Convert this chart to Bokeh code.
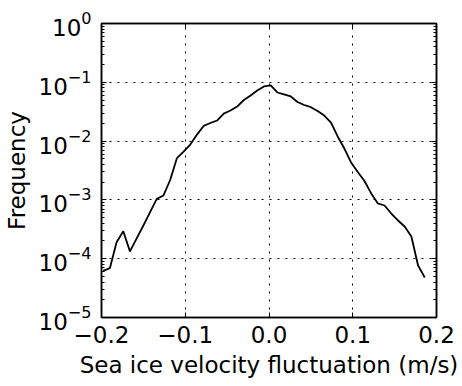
from bokeh.plotting import figure
from bokeh.models import Range1d, LinearAxis, LogAxis, FixedTicker, LogTicker, CustomJSTickFormatter
from bokeh.embed import file_html
from bokeh.resources import INLINE

# bin centres (m/s)
velocity = [-0.198, -0.190, -0.182, -0.174, -0.166, -0.158, -0.150, -0.142, -0.134, -0.126,
            -0.118, -0.110, -0.102, -0.094, -0.086, -0.078, -0.070, -0.062, -0.054, -0.046,
            -0.038, -0.030, -0.022, -0.014, -0.006, 0.002, 0.010, 0.018, 0.026, 0.034,
            0.042, 0.050, 0.058, 0.066, 0.074, 0.082, 0.090, 0.098, 0.106, 0.114,
            0.122, 0.130, 0.138, 0.146, 0.154, 0.162, 0.170, 0.178, 0.186]
frequency = [6.2e-5, 6.9e-5, 1.91e-4, 2.94e-4, 1.33e-4, 2.22e-4, 3.67e-4, 6.18e-4, 1.04e-3, 1.19e-3,
             2.18e-3, 5.12e-3, 6.65e-3, 8.75e-3, 1.29e-2, 1.81e-2, 2.03e-2, 2.24e-2, 2.94e-2, 3.31e-2,
             3.87e-2, 5.00e-2, 5.97e-2, 7.26e-2, 8.49e-2, 8.83e-2, 6.71e-2, 6.21e-2, 5.74e-2, 4.62e-2,
             4.11e-2, 3.77e-2, 3.25e-2, 2.72e-2, 2.07e-2, 1.20e-2, 7.48e-3, 4.33e-3, 2.98e-3, 2.10e-3,
             1.29e-3, 8.69e-4, 8.03e-4, 5.87e-4, 4.47e-4, 3.53e-4, 2.39e-4, 7.66e-5, 4.79e-5]
x_ticks = [-0.2, -0.1, 0.0, 0.1, 0.2]

FONT = "DejaVu Sans"
FS = "23px"

p = figure(width=462, height=386, output_backend="svg", toolbar_location=None,
           y_axis_type="log", x_range=Range1d(-0.2, 0.2), y_range=Range1d(1e-5, 1e0),
           min_border_left=101, min_border_right=26, min_border_top=23, min_border_bottom=69)
p.background_fill_color = "white"
p.border_fill_color = "white"
p.outline_line_color = "black"
p.outline_line_width = 1.5

p.line(velocity, frequency, line_color="black", line_width=1.8)

minus_fmt = CustomJSTickFormatter(code="return tick.toFixed(1).replace('-', '\u2212');")
blank_fmt = CustomJSTickFormatter(code="return '';")

def style(ax, labels=True):
    ax.axis_line_color = "black"
    ax.axis_line_width = 1.5
    ax.major_tick_in = 5
    ax.major_tick_out = 0
    ax.minor_tick_in = 3
    ax.minor_tick_out = 0
    ax.major_tick_line_color = "black"
    ax.minor_tick_line_color = "black"
    ax.major_label_text_font = FONT
    ax.major_label_text_font_size = FS
    ax.major_label_text_color = "black"
    if not labels:
        ax.formatter = blank_fmt
        ax.major_label_standoff = 0

xa = p.xaxis[0]
xa.ticker = FixedTicker(ticks=x_ticks)
xa.formatter = minus_fmt
style(xa)
xa.minor_tick_line_color = None
xa.major_label_standoff = 8
xa.axis_label = "Sea ice velocity fluctuation (m/s)"
xa.axis_label_text_font = FONT
xa.axis_label_text_font_size = FS
xa.axis_label_text_font_style = "normal"
xa.axis_label_text_color = "black"
xa.axis_label_standoff = 6

ya = p.yaxis[0]
ya.ticker = LogTicker(num_minor_ticks=10)
style(ya)
ya.major_label_standoff = 10
ya.axis_label = "Frequency"
ya.axis_label_text_font = FONT
ya.axis_label_text_font_size = FS
ya.axis_label_text_font_style = "normal"
ya.axis_label_text_color = "black"
ya.axis_label_standoff = 6

top = LinearAxis(ticker=FixedTicker(ticks=x_ticks))
style(top, labels=False)
top.minor_tick_line_color = None
p.add_layout(top, "above")

right = LogAxis(ticker=LogTicker(num_minor_ticks=10))
style(right, labels=False)
p.add_layout(right, "right")

p.grid.grid_line_color = "black"
p.grid.grid_line_dash = "2 6"
p.grid.grid_line_width = 1
p.xgrid.ticker = FixedTicker(ticks=x_ticks)

open("out.html", "w").write(file_html(p, INLINE))
